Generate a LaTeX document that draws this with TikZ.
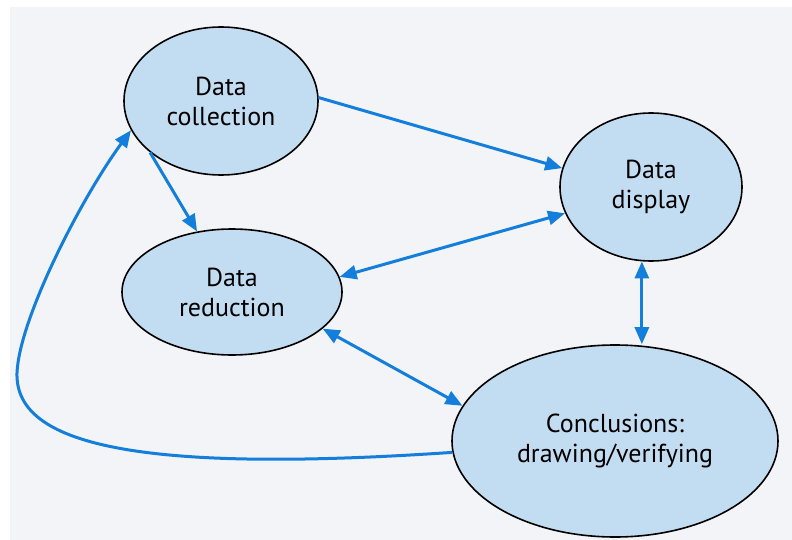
\documentclass[tikz,border=0pt]{standalone}
\usepackage{fontspec}
\setmainfont{PT Sans}
\usetikzlibrary{arrows.meta,shapes.geometric}
\definecolor{pagebg}{RGB}{242,244,247}
\definecolor{bubblefill}{RGB}{194,221,242}
\definecolor{arrowblue}{RGB}{20,126,220}
\begin{document}
\begin{tikzpicture}[x=1pt,y=-1pt,
  bubble/.style={ellipse,draw=black,line width=1.6pt,fill=bubblefill,inner sep=0pt,align=center,font=\fontsize{26}{30}\selectfont},
  link/.style={draw=arrowblue,line width=3pt,-{Triangle[length=17pt,width=14pt]}},
  link2/.style={draw=arrowblue,line width=3pt,{Triangle[length=17pt,width=14pt]}-{Triangle[length=17pt,width=14pt]}}]
\useasboundingbox (0,0) rectangle (792,540);
\fill[white] (0,0) rectangle (792,540);
\fill[pagebg] (10,7) rectangle (792,540);
\node[bubble,minimum width=194pt,minimum height=148pt] (coll) at (221,101) {Data\\collection};
\node[bubble,minimum width=182pt,minimum height=148pt] (disp) at (651,187) {Data\\display};
\node[bubble,minimum width=220pt,minimum height=126pt] (red) at (232,292) {Data\\reduction};
\node[bubble,minimum width=326pt,minimum height=192pt] (conc) at (615,441) {Conclusions:\\drawing/verifying};
\draw[link] (coll.2) -- (disp.168);
\draw[link] (coll.216) -- (red.120);
\draw[link2] (disp.197) -- (red.8);
\draw[link2] (disp.263) -- (disp.263 |- conc.north);
\draw[link2] (red.338) -- (conc.167);
\draw[link] (conc.184) .. controls (120,475) and (15,440) .. (17,373) .. controls (19,320) and (80,200) .. (coll.198);
\end{tikzpicture}
\end{document}
